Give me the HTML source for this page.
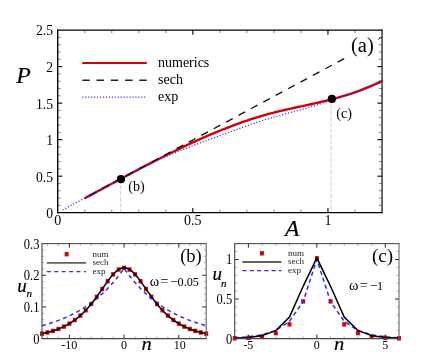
<!DOCTYPE html>
<html><head><meta charset="utf-8"><title>figure</title>
<style>
html,body{margin:0;padding:0;background:#fff;}
body{width:436px;height:355px;overflow:hidden;font-family:"Liberation Serif",serif;}
svg{display:block;font-family:"Liberation Serif",serif;will-change:transform;}
</style></head>
<body>
<svg width="436" height="355" viewBox="0 0 436 355">
<rect x="0" y="0" width="436" height="355" fill="#fff"/>
<line x1="84.73" y1="212.7" x2="84.73" y2="209.7" stroke="#5a5a5a" stroke-width="0.75" />
<line x1="84.73" y1="30.1" x2="84.73" y2="33.1" stroke="#5a5a5a" stroke-width="0.75" />
<line x1="111.75" y1="212.7" x2="111.75" y2="209.7" stroke="#5a5a5a" stroke-width="0.75" />
<line x1="111.75" y1="30.1" x2="111.75" y2="33.1" stroke="#5a5a5a" stroke-width="0.75" />
<line x1="138.78" y1="212.7" x2="138.78" y2="209.7" stroke="#5a5a5a" stroke-width="0.75" />
<line x1="138.78" y1="30.1" x2="138.78" y2="33.1" stroke="#5a5a5a" stroke-width="0.75" />
<line x1="165.8" y1="212.7" x2="165.8" y2="209.7" stroke="#5a5a5a" stroke-width="0.75" />
<line x1="165.8" y1="30.1" x2="165.8" y2="33.1" stroke="#5a5a5a" stroke-width="0.75" />
<line x1="192.82" y1="212.7" x2="192.82" y2="208.1" stroke="#000" stroke-width="1.1" />
<line x1="192.82" y1="30.1" x2="192.82" y2="34.7" stroke="#000" stroke-width="1.1" />
<line x1="219.85" y1="212.7" x2="219.85" y2="209.7" stroke="#5a5a5a" stroke-width="0.75" />
<line x1="219.85" y1="30.1" x2="219.85" y2="33.1" stroke="#5a5a5a" stroke-width="0.75" />
<line x1="246.88" y1="212.7" x2="246.88" y2="209.7" stroke="#5a5a5a" stroke-width="0.75" />
<line x1="246.88" y1="30.1" x2="246.88" y2="33.1" stroke="#5a5a5a" stroke-width="0.75" />
<line x1="273.9" y1="212.7" x2="273.9" y2="209.7" stroke="#5a5a5a" stroke-width="0.75" />
<line x1="273.9" y1="30.1" x2="273.9" y2="33.1" stroke="#5a5a5a" stroke-width="0.75" />
<line x1="300.93" y1="212.7" x2="300.93" y2="209.7" stroke="#5a5a5a" stroke-width="0.75" />
<line x1="300.93" y1="30.1" x2="300.93" y2="33.1" stroke="#5a5a5a" stroke-width="0.75" />
<line x1="327.95" y1="212.7" x2="327.95" y2="208.1" stroke="#000" stroke-width="1.1" />
<line x1="327.95" y1="30.1" x2="327.95" y2="34.7" stroke="#000" stroke-width="1.1" />
<line x1="354.98" y1="212.7" x2="354.98" y2="209.7" stroke="#5a5a5a" stroke-width="0.75" />
<line x1="354.98" y1="30.1" x2="354.98" y2="33.1" stroke="#5a5a5a" stroke-width="0.75" />
<line x1="57.7" y1="205.4" x2="60.7" y2="205.4" stroke="#5a5a5a" stroke-width="0.75" />
<line x1="382" y1="205.4" x2="379" y2="205.4" stroke="#5a5a5a" stroke-width="0.75" />
<line x1="57.7" y1="198.09" x2="60.7" y2="198.09" stroke="#5a5a5a" stroke-width="0.75" />
<line x1="382" y1="198.09" x2="379" y2="198.09" stroke="#5a5a5a" stroke-width="0.75" />
<line x1="57.7" y1="190.79" x2="60.7" y2="190.79" stroke="#5a5a5a" stroke-width="0.75" />
<line x1="382" y1="190.79" x2="379" y2="190.79" stroke="#5a5a5a" stroke-width="0.75" />
<line x1="57.7" y1="183.48" x2="60.7" y2="183.48" stroke="#5a5a5a" stroke-width="0.75" />
<line x1="382" y1="183.48" x2="379" y2="183.48" stroke="#5a5a5a" stroke-width="0.75" />
<line x1="57.7" y1="176.18" x2="62.3" y2="176.18" stroke="#000" stroke-width="1.1" />
<line x1="382" y1="176.18" x2="377.4" y2="176.18" stroke="#000" stroke-width="1.1" />
<line x1="57.7" y1="168.88" x2="60.7" y2="168.88" stroke="#5a5a5a" stroke-width="0.75" />
<line x1="382" y1="168.88" x2="379" y2="168.88" stroke="#5a5a5a" stroke-width="0.75" />
<line x1="57.7" y1="161.57" x2="60.7" y2="161.57" stroke="#5a5a5a" stroke-width="0.75" />
<line x1="382" y1="161.57" x2="379" y2="161.57" stroke="#5a5a5a" stroke-width="0.75" />
<line x1="57.7" y1="154.27" x2="60.7" y2="154.27" stroke="#5a5a5a" stroke-width="0.75" />
<line x1="382" y1="154.27" x2="379" y2="154.27" stroke="#5a5a5a" stroke-width="0.75" />
<line x1="57.7" y1="146.96" x2="60.7" y2="146.96" stroke="#5a5a5a" stroke-width="0.75" />
<line x1="382" y1="146.96" x2="379" y2="146.96" stroke="#5a5a5a" stroke-width="0.75" />
<line x1="57.7" y1="139.66" x2="62.3" y2="139.66" stroke="#000" stroke-width="1.1" />
<line x1="382" y1="139.66" x2="377.4" y2="139.66" stroke="#000" stroke-width="1.1" />
<line x1="57.7" y1="132.36" x2="60.7" y2="132.36" stroke="#5a5a5a" stroke-width="0.75" />
<line x1="382" y1="132.36" x2="379" y2="132.36" stroke="#5a5a5a" stroke-width="0.75" />
<line x1="57.7" y1="125.05" x2="60.7" y2="125.05" stroke="#5a5a5a" stroke-width="0.75" />
<line x1="382" y1="125.05" x2="379" y2="125.05" stroke="#5a5a5a" stroke-width="0.75" />
<line x1="57.7" y1="117.75" x2="60.7" y2="117.75" stroke="#5a5a5a" stroke-width="0.75" />
<line x1="382" y1="117.75" x2="379" y2="117.75" stroke="#5a5a5a" stroke-width="0.75" />
<line x1="57.7" y1="110.44" x2="60.7" y2="110.44" stroke="#5a5a5a" stroke-width="0.75" />
<line x1="382" y1="110.44" x2="379" y2="110.44" stroke="#5a5a5a" stroke-width="0.75" />
<line x1="57.7" y1="103.14" x2="62.3" y2="103.14" stroke="#000" stroke-width="1.1" />
<line x1="382" y1="103.14" x2="377.4" y2="103.14" stroke="#000" stroke-width="1.1" />
<line x1="57.7" y1="95.84" x2="60.7" y2="95.84" stroke="#5a5a5a" stroke-width="0.75" />
<line x1="382" y1="95.84" x2="379" y2="95.84" stroke="#5a5a5a" stroke-width="0.75" />
<line x1="57.7" y1="88.53" x2="60.7" y2="88.53" stroke="#5a5a5a" stroke-width="0.75" />
<line x1="382" y1="88.53" x2="379" y2="88.53" stroke="#5a5a5a" stroke-width="0.75" />
<line x1="57.7" y1="81.23" x2="60.7" y2="81.23" stroke="#5a5a5a" stroke-width="0.75" />
<line x1="382" y1="81.23" x2="379" y2="81.23" stroke="#5a5a5a" stroke-width="0.75" />
<line x1="57.7" y1="73.92" x2="60.7" y2="73.92" stroke="#5a5a5a" stroke-width="0.75" />
<line x1="382" y1="73.92" x2="379" y2="73.92" stroke="#5a5a5a" stroke-width="0.75" />
<line x1="57.7" y1="66.62" x2="62.3" y2="66.62" stroke="#000" stroke-width="1.1" />
<line x1="382" y1="66.62" x2="377.4" y2="66.62" stroke="#000" stroke-width="1.1" />
<line x1="57.7" y1="59.32" x2="60.7" y2="59.32" stroke="#5a5a5a" stroke-width="0.75" />
<line x1="382" y1="59.32" x2="379" y2="59.32" stroke="#5a5a5a" stroke-width="0.75" />
<line x1="57.7" y1="52.01" x2="60.7" y2="52.01" stroke="#5a5a5a" stroke-width="0.75" />
<line x1="382" y1="52.01" x2="379" y2="52.01" stroke="#5a5a5a" stroke-width="0.75" />
<line x1="57.7" y1="44.71" x2="60.7" y2="44.71" stroke="#5a5a5a" stroke-width="0.75" />
<line x1="382" y1="44.71" x2="379" y2="44.71" stroke="#5a5a5a" stroke-width="0.75" />
<line x1="57.7" y1="37.4" x2="60.7" y2="37.4" stroke="#5a5a5a" stroke-width="0.75" />
<line x1="382" y1="37.4" x2="379" y2="37.4" stroke="#5a5a5a" stroke-width="0.75" />
<line x1="120.54" y1="179.14" x2="120.54" y2="212.7" stroke="#d8d8d8" stroke-width="1.2" stroke-dasharray="4.6 1.3"/>
<line x1="330.87" y1="98.9" x2="330.87" y2="212.7" stroke="#d8d8d8" stroke-width="1.2" stroke-dasharray="4.6 1.3"/>
<path d="M84.73 198.26 L87.22 196.91 L89.72 195.57 L92.22 194.23 L94.72 192.88 L97.22 191.54 L99.71 190.19 L102.21 188.84 L104.71 187.49 L107.21 186.15 L109.71 184.8 L112.2 183.46 L114.7 182.11 L117.2 180.77 L119.7 179.43 L122.2 178.09 L124.69 176.75 L127.19 175.42 L129.69 174.09 L132.19 172.76 L134.69 171.44 L137.19 170.12 L139.68 168.81 L142.18 167.5 L144.68 166.19 L147.18 164.89 L149.68 163.59 L152.17 162.31 L154.67 161.02 L157.17 159.75 L159.67 158.48 L162.17 157.21 L164.66 155.96 L167.16 154.71 L169.66 153.47 L172.16 152.23 L174.66 151.01 L177.16 149.8 L179.65 148.59 L182.15 147.39 L184.65 146.2 L187.15 145.03 L189.65 143.86 L192.14 142.7 L194.64 141.56 L197.14 140.42 L199.64 139.3 L202.14 138.19 L204.63 137.09 L207.13 136 L209.63 134.93 L212.13 133.87 L214.63 132.82 L217.12 131.78 L219.62 130.76 L222.12 129.75 L224.62 128.76 L227.12 127.78 L229.62 126.82 L232.11 125.87 L234.61 124.94 L237.11 124.03 L239.61 123.13 L242.11 122.24 L244.6 121.38 L247.1 120.53 L249.6 119.7 L252.1 118.88 L254.6 118.09 L257.09 117.31 L259.59 116.55 L262.09 115.81 L264.59 115.09 L267.09 114.39 L269.59 113.71 L272.08 113.05 L274.58 112.4 L277.08 111.78 L279.58 111.17 L282.08 110.57 L284.57 109.99 L287.07 109.42 L289.57 108.86 L292.07 108.31 L294.57 107.76 L297.06 107.22 L299.56 106.68 L302.06 106.14 L304.56 105.6 L307.06 105.06 L309.55 104.52 L312.05 103.97 L314.55 103.42 L317.05 102.85 L319.55 102.28 L322.05 101.7 L324.54 101.1 L327.04 100.49 L329.54 99.87 L332.04 99.22 L334.54 98.56 L337.03 97.88 L339.53 97.17 L342.03 96.45 L344.53 95.7 L347.03 94.92 L349.52 94.12 L352.02 93.3 L354.52 92.44 L357.02 91.56 L359.52 90.65 L362.02 89.71 L364.51 88.74 L367.01 87.73 L369.51 86.69 L372.01 85.62 L374.51 84.51 L377 83.36 L379.5 82.18 L382 80.96" fill="none" stroke="#d40000" stroke-width="2.4" stroke-linecap="butt"/>
<path d="M84.73 198.09 L345.52 57.86" fill="none" stroke="#111" stroke-width="1.35" stroke-dasharray="7.45 6.62" stroke-dashoffset="8.3"/>
<path d="M62.56 209.99 L65.25 208.52 L67.93 207.06 L70.62 205.61 L73.3 204.17 L75.99 202.74 L78.67 201.31 L81.35 199.89 L84.04 198.48 L86.72 197.07 L89.41 195.67 L92.09 194.27 L94.78 192.87 L97.46 191.48 L100.15 190.08 L102.83 188.69 L105.51 187.29 L108.2 185.89 L110.88 184.49 L113.57 183.08 L116.25 181.67 L118.94 180.25 L121.62 178.83 L124.3 177.4 L126.99 175.97 L129.67 174.54 L132.36 173.11 L135.04 171.69 L137.73 170.27 L140.41 168.87 L143.09 167.49 L145.78 166.12 L148.46 164.78 L151.15 163.46 L153.83 162.17 L156.52 160.9 L159.2 159.66 L161.88 158.44 L164.57 157.25 L167.25 156.07 L169.94 154.92 L172.62 153.78 L175.31 152.66 L177.99 151.56 L180.68 150.47 L183.36 149.39 L186.04 148.33 L188.73 147.28 L191.41 146.24 L194.1 145.21 L196.78 144.19 L199.47 143.18 L202.15 142.17 L204.83 141.17 L207.52 140.17 L210.2 139.18 L212.89 138.2 L215.57 137.22 L218.26 136.24 L220.94 135.26 L223.62 134.28 L226.31 133.3 L228.99 132.32 L231.68 131.34 L234.36 130.36 L237.05 129.39 L239.73 128.41 L242.41 127.44 L245.1 126.48 L247.78 125.52 L250.47 124.57 L253.15 123.64 L255.84 122.72 L258.52 121.82 L261.21 120.94 L263.89 120.07 L266.57 119.23 L269.26 118.41 L271.94 117.62 L274.63 116.85 L277.31 116.1 L280 115.36 L282.68 114.64 L285.36 113.93 L288.05 113.23 L290.73 112.52 L293.42 111.81 L296.1 111.1 L298.79 110.38 L301.47 109.64 L304.15 108.89 L306.84 108.11 L309.52 107.31 L312.21 106.48 L314.89 105.63 L317.58 104.76 L320.26 103.87 L322.94 102.98 L325.63 102.09 L328.31 101.2 L331 100.33 L333.68 99.47 L336.37 98.63 L339.05 97.8 L341.74 96.97 L344.42 96.15 L347.1 95.32 L349.79 94.49 L352.47 93.64 L355.16 92.77 L357.84 91.87 L360.53 90.95 L363.21 90 L365.89 89 L368.58 87.96 L371.26 86.87 L373.95 85.73 L376.63 84.53 L379.32 83.26 L382 81.93" fill="none" stroke="#2a2aff" stroke-width="1.3" stroke-dasharray="1.1 1.9"/>
<line x1="57.05" y1="30.1" x2="382.55" y2="30.1" stroke="#000" stroke-width="1.05" />
<line x1="57.05" y1="212.7" x2="382.55" y2="212.7" stroke="#000" stroke-width="1.25" />
<line x1="57.7" y1="29.6" x2="57.7" y2="213.35" stroke="#000" stroke-width="1.35" />
<line x1="382.05" y1="29.6" x2="382.05" y2="213.35" stroke="#1a1a1a" stroke-width="1.3" />
<path d="M378.3 39.7 L379.9 38.0 L381.8 37.4" fill="none" stroke="#111" stroke-width="0.95"/>
<circle cx="120.94" cy="179.14" r="4.1" fill="#000"/>
<circle cx="331.87" cy="98.9" r="4.1" fill="#000"/>
<text transform="translate(53 35.1) scale(0.96 1)" font-size="14.2" text-anchor="end" fill="#000" >2.5</text>
<text transform="translate(53 72.02) scale(0.96 1)" font-size="14.2" text-anchor="end" fill="#000" >2</text>
<text transform="translate(53 108.54) scale(0.96 1)" font-size="14.2" text-anchor="end" fill="#000" >1.5</text>
<text transform="translate(53 145.06) scale(0.96 1)" font-size="14.2" text-anchor="end" fill="#000" >1</text>
<text transform="translate(53 181.58) scale(0.96 1)" font-size="14.2" text-anchor="end" fill="#000" >0.5</text>
<text transform="translate(53 218.1) scale(0.96 1)" font-size="14.2" text-anchor="end" fill="#000" >0</text>
<text x="57.7" y="225.2" font-size="14" text-anchor="middle" fill="#000" >0</text>
<text x="192.82" y="225.2" font-size="14" text-anchor="middle" fill="#000" >0.5</text>
<text x="327.95" y="225.2" font-size="14" text-anchor="middle" fill="#000" >1</text>
<text x="16.3" y="83.4" font-size="23.8" text-anchor="start" font-style="italic" fill="#000" stroke="#000" stroke-width="0.2">P</text>
<text x="285" y="236.3" font-size="23.5" text-anchor="start" font-style="italic" fill="#000" stroke="#000" stroke-width="0.2">A</text>
<text x="351" y="51.5" font-size="20.5" text-anchor="start" fill="#000" >(a)</text>
<text x="128.3" y="190.7" font-size="14.2" text-anchor="start" fill="#000" >(b)</text>
<text x="336.3" y="117.6" font-size="14.2" text-anchor="start" fill="#000" >(c)</text>
<line x1="82.3" y1="63" x2="146.8" y2="63" stroke="#d40000" stroke-width="1.9" />
<line x1="82.3" y1="80.2" x2="146.8" y2="80.2" stroke="#222" stroke-width="1.4" stroke-dasharray="7.5 6.75"/>
<line x1="82.3" y1="97.2" x2="146.3" y2="97.2" stroke="#2a2aff" stroke-width="1.3" stroke-dasharray="1.1 1.85"/>
<text x="158" y="66.7" font-size="14" text-anchor="start" fill="#000" >numerics</text>
<text x="158" y="84.3" font-size="14" text-anchor="start" fill="#000" >sech</text>
<text x="158" y="100.7" font-size="14" text-anchor="start" fill="#000" >exp</text>
<line x1="47.47" y1="338.6" x2="47.47" y2="336.2" stroke="#8a8a8a" stroke-width="0.6" />
<line x1="47.47" y1="243.65" x2="47.47" y2="246.05" stroke="#8a8a8a" stroke-width="0.6" />
<line x1="58.42" y1="338.6" x2="58.42" y2="336.2" stroke="#8a8a8a" stroke-width="0.6" />
<line x1="58.42" y1="243.65" x2="58.42" y2="246.05" stroke="#8a8a8a" stroke-width="0.6" />
<line x1="69.37" y1="338.6" x2="69.37" y2="334.6" stroke="#2b2b2b" stroke-width="1.0" />
<line x1="69.37" y1="243.65" x2="69.37" y2="247.65" stroke="#2b2b2b" stroke-width="1.0" />
<line x1="80.31" y1="338.6" x2="80.31" y2="336.2" stroke="#8a8a8a" stroke-width="0.6" />
<line x1="80.31" y1="243.65" x2="80.31" y2="246.05" stroke="#8a8a8a" stroke-width="0.6" />
<line x1="91.26" y1="338.6" x2="91.26" y2="336.2" stroke="#8a8a8a" stroke-width="0.6" />
<line x1="91.26" y1="243.65" x2="91.26" y2="246.05" stroke="#8a8a8a" stroke-width="0.6" />
<line x1="102.21" y1="338.6" x2="102.21" y2="336.2" stroke="#8a8a8a" stroke-width="0.6" />
<line x1="102.21" y1="243.65" x2="102.21" y2="246.05" stroke="#8a8a8a" stroke-width="0.6" />
<line x1="113.15" y1="338.6" x2="113.15" y2="336.2" stroke="#8a8a8a" stroke-width="0.6" />
<line x1="113.15" y1="243.65" x2="113.15" y2="246.05" stroke="#8a8a8a" stroke-width="0.6" />
<line x1="124.1" y1="338.6" x2="124.1" y2="334.6" stroke="#2b2b2b" stroke-width="1.0" />
<line x1="124.1" y1="243.65" x2="124.1" y2="247.65" stroke="#2b2b2b" stroke-width="1.0" />
<line x1="135.05" y1="338.6" x2="135.05" y2="336.2" stroke="#8a8a8a" stroke-width="0.6" />
<line x1="135.05" y1="243.65" x2="135.05" y2="246.05" stroke="#8a8a8a" stroke-width="0.6" />
<line x1="145.99" y1="338.6" x2="145.99" y2="336.2" stroke="#8a8a8a" stroke-width="0.6" />
<line x1="145.99" y1="243.65" x2="145.99" y2="246.05" stroke="#8a8a8a" stroke-width="0.6" />
<line x1="156.94" y1="338.6" x2="156.94" y2="336.2" stroke="#8a8a8a" stroke-width="0.6" />
<line x1="156.94" y1="243.65" x2="156.94" y2="246.05" stroke="#8a8a8a" stroke-width="0.6" />
<line x1="167.89" y1="338.6" x2="167.89" y2="336.2" stroke="#8a8a8a" stroke-width="0.6" />
<line x1="167.89" y1="243.65" x2="167.89" y2="246.05" stroke="#8a8a8a" stroke-width="0.6" />
<line x1="178.83" y1="338.6" x2="178.83" y2="334.6" stroke="#2b2b2b" stroke-width="1.0" />
<line x1="178.83" y1="243.65" x2="178.83" y2="247.65" stroke="#2b2b2b" stroke-width="1.0" />
<line x1="189.78" y1="338.6" x2="189.78" y2="336.2" stroke="#8a8a8a" stroke-width="0.6" />
<line x1="189.78" y1="243.65" x2="189.78" y2="246.05" stroke="#8a8a8a" stroke-width="0.6" />
<line x1="200.73" y1="338.6" x2="200.73" y2="336.2" stroke="#8a8a8a" stroke-width="0.6" />
<line x1="200.73" y1="243.65" x2="200.73" y2="246.05" stroke="#8a8a8a" stroke-width="0.6" />
<line x1="42" y1="332.27" x2="44.4" y2="332.27" stroke="#8a8a8a" stroke-width="0.6" />
<line x1="206.2" y1="332.27" x2="203.8" y2="332.27" stroke="#8a8a8a" stroke-width="0.6" />
<line x1="42" y1="325.94" x2="44.4" y2="325.94" stroke="#8a8a8a" stroke-width="0.6" />
<line x1="206.2" y1="325.94" x2="203.8" y2="325.94" stroke="#8a8a8a" stroke-width="0.6" />
<line x1="42" y1="319.61" x2="44.4" y2="319.61" stroke="#8a8a8a" stroke-width="0.6" />
<line x1="206.2" y1="319.61" x2="203.8" y2="319.61" stroke="#8a8a8a" stroke-width="0.6" />
<line x1="42" y1="313.28" x2="44.4" y2="313.28" stroke="#8a8a8a" stroke-width="0.6" />
<line x1="206.2" y1="313.28" x2="203.8" y2="313.28" stroke="#8a8a8a" stroke-width="0.6" />
<line x1="42" y1="306.95" x2="46" y2="306.95" stroke="#2b2b2b" stroke-width="1.0" />
<line x1="206.2" y1="306.95" x2="202.2" y2="306.95" stroke="#2b2b2b" stroke-width="1.0" />
<line x1="42" y1="300.62" x2="44.4" y2="300.62" stroke="#8a8a8a" stroke-width="0.6" />
<line x1="206.2" y1="300.62" x2="203.8" y2="300.62" stroke="#8a8a8a" stroke-width="0.6" />
<line x1="42" y1="294.29" x2="44.4" y2="294.29" stroke="#8a8a8a" stroke-width="0.6" />
<line x1="206.2" y1="294.29" x2="203.8" y2="294.29" stroke="#8a8a8a" stroke-width="0.6" />
<line x1="42" y1="287.96" x2="44.4" y2="287.96" stroke="#8a8a8a" stroke-width="0.6" />
<line x1="206.2" y1="287.96" x2="203.8" y2="287.96" stroke="#8a8a8a" stroke-width="0.6" />
<line x1="42" y1="281.63" x2="44.4" y2="281.63" stroke="#8a8a8a" stroke-width="0.6" />
<line x1="206.2" y1="281.63" x2="203.8" y2="281.63" stroke="#8a8a8a" stroke-width="0.6" />
<line x1="42" y1="275.3" x2="46" y2="275.3" stroke="#2b2b2b" stroke-width="1.0" />
<line x1="206.2" y1="275.3" x2="202.2" y2="275.3" stroke="#2b2b2b" stroke-width="1.0" />
<line x1="42" y1="268.97" x2="44.4" y2="268.97" stroke="#8a8a8a" stroke-width="0.6" />
<line x1="206.2" y1="268.97" x2="203.8" y2="268.97" stroke="#8a8a8a" stroke-width="0.6" />
<line x1="42" y1="262.64" x2="44.4" y2="262.64" stroke="#8a8a8a" stroke-width="0.6" />
<line x1="206.2" y1="262.64" x2="203.8" y2="262.64" stroke="#8a8a8a" stroke-width="0.6" />
<line x1="42" y1="256.31" x2="44.4" y2="256.31" stroke="#8a8a8a" stroke-width="0.6" />
<line x1="206.2" y1="256.31" x2="203.8" y2="256.31" stroke="#8a8a8a" stroke-width="0.6" />
<line x1="42" y1="249.98" x2="44.4" y2="249.98" stroke="#8a8a8a" stroke-width="0.6" />
<line x1="206.2" y1="249.98" x2="203.8" y2="249.98" stroke="#8a8a8a" stroke-width="0.6" />
<clipPath id="cb"><rect x="42" y="243.65" width="167.2" height="97.95"/></clipPath>
<rect x="40" y="331.46" width="4" height="4.4" fill="#d80000"/>
<rect x="45.47" y="330.23" width="4" height="4.4" fill="#d80000"/>
<rect x="50.95" y="328.69" width="4" height="4.4" fill="#d80000"/>
<rect x="56.42" y="326.77" width="4" height="4.4" fill="#d80000"/>
<rect x="61.89" y="324.39" width="4" height="4.4" fill="#d80000"/>
<rect x="67.37" y="321.44" width="4" height="4.4" fill="#d80000"/>
<rect x="72.84" y="317.81" width="4" height="4.4" fill="#d80000"/>
<rect x="78.31" y="313.38" width="4" height="4.4" fill="#d80000"/>
<rect x="83.79" y="308.05" width="4" height="4.4" fill="#d80000"/>
<rect x="89.26" y="301.77" width="4" height="4.4" fill="#d80000"/>
<rect x="94.73" y="294.59" width="4" height="4.4" fill="#d80000"/>
<rect x="100.21" y="286.82" width="4" height="4.4" fill="#d80000"/>
<rect x="105.68" y="279.03" width="4" height="4.4" fill="#d80000"/>
<rect x="111.15" y="272.16" width="4" height="4.4" fill="#d80000"/>
<rect x="116.63" y="267.36" width="4" height="4.4" fill="#d80000"/>
<rect x="122.1" y="265.63" width="4" height="4.4" fill="#d80000"/>
<rect x="127.57" y="267.36" width="4" height="4.4" fill="#d80000"/>
<rect x="133.05" y="272.16" width="4" height="4.4" fill="#d80000"/>
<rect x="138.52" y="279.03" width="4" height="4.4" fill="#d80000"/>
<rect x="143.99" y="286.82" width="4" height="4.4" fill="#d80000"/>
<rect x="149.47" y="294.59" width="4" height="4.4" fill="#d80000"/>
<rect x="154.94" y="301.77" width="4" height="4.4" fill="#d80000"/>
<rect x="160.41" y="308.05" width="4" height="4.4" fill="#d80000"/>
<rect x="165.89" y="313.38" width="4" height="4.4" fill="#d80000"/>
<rect x="171.36" y="317.81" width="4" height="4.4" fill="#d80000"/>
<rect x="176.83" y="321.44" width="4" height="4.4" fill="#d80000"/>
<rect x="182.31" y="324.39" width="4" height="4.4" fill="#d80000"/>
<rect x="187.78" y="326.77" width="4" height="4.4" fill="#d80000"/>
<rect x="193.25" y="328.69" width="4" height="4.4" fill="#d80000"/>
<rect x="198.73" y="330.23" width="4" height="4.4" fill="#d80000"/>
<rect x="204.2" y="331.46" width="4" height="4.4" fill="#d80000"/>
<path d="M42 325.6 L42.68 325.42 L43.37 325.23 L44.05 325.04 L44.74 324.85 L45.42 324.66 L46.1 324.46 L46.79 324.26 L47.47 324.06 L48.16 323.85 L48.84 323.64 L49.53 323.43 L50.21 323.21 L50.89 323 L51.58 322.77 L52.26 322.55 L52.95 322.32 L53.63 322.09 L54.31 321.86 L55 321.62 L55.68 321.38 L56.37 321.14 L57.05 320.89 L57.74 320.64 L58.42 320.39 L59.1 320.13 L59.79 319.87 L60.47 319.6 L61.16 319.33 L61.84 319.06 L62.52 318.78 L63.21 318.5 L63.89 318.22 L64.58 317.93 L65.26 317.63 L65.95 317.34 L66.63 317.04 L67.31 316.73 L68 316.42 L68.68 316.11 L69.37 315.79 L70.05 315.47 L70.73 315.14 L71.42 314.81 L72.1 314.47 L72.79 314.13 L73.47 313.78 L74.16 313.43 L74.84 313.07 L75.52 312.71 L76.21 312.34 L76.89 311.97 L77.58 311.6 L78.26 311.21 L78.94 310.83 L79.63 310.43 L80.31 310.03 L81 309.63 L81.68 309.22 L82.37 308.8 L83.05 308.38 L83.73 307.95 L84.42 307.52 L85.1 307.08 L85.79 306.63 L86.47 306.18 L87.16 305.72 L87.84 305.25 L88.52 304.78 L89.21 304.3 L89.89 303.82 L90.58 303.32 L91.26 302.83 L91.94 302.32 L92.63 301.8 L93.31 301.28 L94 300.76 L94.68 300.22 L95.36 299.68 L96.05 299.12 L96.73 298.57 L97.42 298 L98.1 297.42 L98.79 296.84 L99.47 296.25 L100.15 295.65 L100.84 295.04 L101.52 294.42 L102.21 293.8 L102.89 293.16 L103.57 292.52 L104.26 291.87 L104.94 291.21 L105.63 290.53 L106.31 289.85 L107 289.16 L107.68 288.46 L108.36 287.75 L109.05 287.03 L109.73 286.3 L110.42 285.56 L111.1 284.81 L111.78 284.05 L112.47 283.28 L113.15 282.49 L113.84 281.7 L114.52 280.89 L115.21 280.08 L115.89 279.25 L116.57 278.41 L117.26 277.55 L117.94 276.69 L118.63 275.81 L119.31 274.92 L119.99 274.02 L120.68 273.11 L121.36 272.18 L122.05 271.24 L122.73 270.29 L123.42 269.32 L124.1 268.34 L124.78 269.32 L125.47 270.29 L126.15 271.24 L126.84 272.18 L127.52 273.11 L128.2 274.02 L128.89 274.92 L129.57 275.81 L130.26 276.69 L130.94 277.55 L131.63 278.41 L132.31 279.25 L132.99 280.08 L133.68 280.89 L134.36 281.7 L135.05 282.49 L135.73 283.28 L136.41 284.05 L137.1 284.81 L137.78 285.56 L138.47 286.3 L139.15 287.03 L139.84 287.75 L140.52 288.46 L141.2 289.16 L141.89 289.85 L142.57 290.53 L143.26 291.21 L143.94 291.87 L144.62 292.52 L145.31 293.16 L145.99 293.8 L146.68 294.42 L147.36 295.04 L148.05 295.65 L148.73 296.25 L149.41 296.84 L150.1 297.42 L150.78 298 L151.47 298.57 L152.15 299.12 L152.83 299.68 L153.52 300.22 L154.2 300.76 L154.89 301.28 L155.57 301.8 L156.26 302.32 L156.94 302.83 L157.62 303.32 L158.31 303.82 L158.99 304.3 L159.68 304.78 L160.36 305.25 L161.05 305.72 L161.73 306.18 L162.41 306.63 L163.1 307.08 L163.78 307.52 L164.47 307.95 L165.15 308.38 L165.83 308.8 L166.52 309.22 L167.2 309.63 L167.89 310.03 L168.57 310.43 L169.25 310.83 L169.94 311.21 L170.62 311.6 L171.31 311.97 L171.99 312.34 L172.68 312.71 L173.36 313.07 L174.04 313.43 L174.73 313.78 L175.41 314.13 L176.1 314.47 L176.78 314.81 L177.47 315.14 L178.15 315.47 L178.83 315.79 L179.52 316.11 L180.2 316.42 L180.89 316.73 L181.57 317.04 L182.25 317.34 L182.94 317.63 L183.62 317.93 L184.31 318.22 L184.99 318.5 L185.68 318.78 L186.36 319.06 L187.04 319.33 L187.73 319.6 L188.41 319.87 L189.1 320.13 L189.78 320.39 L190.46 320.64 L191.15 320.89 L191.83 321.14 L192.52 321.38 L193.2 321.62 L193.88 321.86 L194.57 322.09 L195.25 322.32 L195.94 322.55 L196.62 322.77 L197.31 323 L197.99 323.21 L198.67 323.43 L199.36 323.64 L200.04 323.85 L200.73 324.06 L201.41 324.26 L202.09 324.46 L202.78 324.66 L203.46 324.85 L204.15 325.04 L204.83 325.23 L205.52 325.42 L206.2 325.6" fill="none" stroke="#2a2aff" stroke-width="1.5" stroke-dasharray="3.9 3.5"/>
<path d="M42 333.66 L42.68 333.52 L43.37 333.38 L44.05 333.23 L44.74 333.08 L45.42 332.92 L46.1 332.76 L46.79 332.6 L47.47 332.43 L48.16 332.25 L48.84 332.07 L49.53 331.89 L50.21 331.7 L50.89 331.5 L51.58 331.3 L52.26 331.1 L52.95 330.89 L53.63 330.67 L54.31 330.45 L55 330.22 L55.68 329.98 L56.37 329.74 L57.05 329.49 L57.74 329.23 L58.42 328.97 L59.1 328.7 L59.79 328.42 L60.47 328.14 L61.16 327.85 L61.84 327.54 L62.52 327.23 L63.21 326.92 L63.89 326.59 L64.58 326.26 L65.26 325.91 L65.95 325.56 L66.63 325.19 L67.31 324.82 L68 324.44 L68.68 324.05 L69.37 323.64 L70.05 323.23 L70.73 322.8 L71.42 322.37 L72.1 321.92 L72.79 321.46 L73.47 320.99 L74.16 320.51 L74.84 320.01 L75.52 319.51 L76.21 318.99 L76.89 318.45 L77.58 317.91 L78.26 317.35 L78.94 316.77 L79.63 316.18 L80.31 315.58 L81 314.97 L81.68 314.34 L82.37 313.69 L83.05 313.03 L83.73 312.36 L84.42 311.67 L85.1 310.97 L85.79 310.25 L86.47 309.52 L87.16 308.77 L87.84 308.01 L88.52 307.23 L89.21 306.43 L89.89 305.62 L90.58 304.8 L91.26 303.97 L91.94 303.11 L92.63 302.25 L93.31 301.37 L94 300.48 L94.68 299.58 L95.36 298.66 L96.05 297.73 L96.73 296.79 L97.42 295.85 L98.1 294.89 L98.79 293.93 L99.47 292.95 L100.15 291.98 L100.84 290.99 L101.52 290.01 L102.21 289.02 L102.89 288.03 L103.57 287.04 L104.26 286.06 L104.94 285.08 L105.63 284.1 L106.31 283.13 L107 282.18 L107.68 281.23 L108.36 280.3 L109.05 279.38 L109.73 278.49 L110.42 277.61 L111.1 276.76 L111.78 275.93 L112.47 275.13 L113.15 274.36 L113.84 273.63 L114.52 272.92 L115.21 272.26 L115.89 271.63 L116.57 271.05 L117.26 270.51 L117.94 270.01 L118.63 269.56 L119.31 269.16 L119.99 268.81 L120.68 268.52 L121.36 268.27 L122.05 268.08 L122.73 267.94 L123.42 267.86 L124.1 267.83 L124.78 267.86 L125.47 267.94 L126.15 268.08 L126.84 268.27 L127.52 268.52 L128.2 268.81 L128.89 269.16 L129.57 269.56 L130.26 270.01 L130.94 270.51 L131.63 271.05 L132.31 271.63 L132.99 272.26 L133.68 272.92 L134.36 273.63 L135.05 274.36 L135.73 275.13 L136.41 275.93 L137.1 276.76 L137.78 277.61 L138.47 278.49 L139.15 279.38 L139.84 280.3 L140.52 281.23 L141.2 282.18 L141.89 283.13 L142.57 284.1 L143.26 285.08 L143.94 286.06 L144.62 287.04 L145.31 288.03 L145.99 289.02 L146.68 290.01 L147.36 290.99 L148.05 291.98 L148.73 292.95 L149.41 293.93 L150.1 294.89 L150.78 295.85 L151.47 296.79 L152.15 297.73 L152.83 298.66 L153.52 299.58 L154.2 300.48 L154.89 301.37 L155.57 302.25 L156.26 303.11 L156.94 303.97 L157.62 304.8 L158.31 305.62 L158.99 306.43 L159.68 307.23 L160.36 308.01 L161.05 308.77 L161.73 309.52 L162.41 310.25 L163.1 310.97 L163.78 311.67 L164.47 312.36 L165.15 313.03 L165.83 313.69 L166.52 314.34 L167.2 314.97 L167.89 315.58 L168.57 316.18 L169.25 316.77 L169.94 317.35 L170.62 317.91 L171.31 318.45 L171.99 318.99 L172.68 319.51 L173.36 320.01 L174.04 320.51 L174.73 320.99 L175.41 321.46 L176.1 321.92 L176.78 322.37 L177.47 322.8 L178.15 323.23 L178.83 323.64 L179.52 324.05 L180.2 324.44 L180.89 324.82 L181.57 325.19 L182.25 325.56 L182.94 325.91 L183.62 326.26 L184.31 326.59 L184.99 326.92 L185.68 327.23 L186.36 327.54 L187.04 327.85 L187.73 328.14 L188.41 328.42 L189.1 328.7 L189.78 328.97 L190.46 329.23 L191.15 329.49 L191.83 329.74 L192.52 329.98 L193.2 330.22 L193.88 330.45 L194.57 330.67 L195.25 330.89 L195.94 331.1 L196.62 331.3 L197.31 331.5 L197.99 331.7 L198.67 331.89 L199.36 332.07 L200.04 332.25 L200.73 332.43 L201.41 332.6 L202.09 332.76 L202.78 332.92 L203.46 333.08 L204.15 333.23 L204.83 333.38 L205.52 333.52 L206.2 333.66" fill="none" stroke="#000" stroke-width="1.5" />
<line x1="41.5" y1="243.65" x2="206.7" y2="243.65" stroke="#333" stroke-width="0.95" />
<line x1="41.5" y1="338.6" x2="206.7" y2="338.6" stroke="#444" stroke-width="1.05" />
<line x1="42" y1="243.25" x2="42" y2="339.1" stroke="#444" stroke-width="1.1" />
<line x1="206.2" y1="243.25" x2="206.2" y2="339.1" stroke="#666" stroke-width="1.1" />
<text transform="translate(39.5 248.65) scale(0.86 1)" font-size="14.6" text-anchor="end" fill="#000" >0.3</text>
<text transform="translate(39.5 280.3) scale(0.86 1)" font-size="14.6" text-anchor="end" fill="#000" >0.2</text>
<text transform="translate(39.5 311.95) scale(0.86 1)" font-size="14.6" text-anchor="end" fill="#000" >0.1</text>
<text transform="translate(39.5 343.6) scale(0.86 1)" font-size="14.6" text-anchor="end" fill="#000" >0</text>
<text x="69.37" y="348.8" font-size="12" text-anchor="middle" fill="#000" >-10</text>
<text x="124.1" y="348.8" font-size="12" text-anchor="middle" fill="#000" >0</text>
<text x="179.63" y="348.8" font-size="12" text-anchor="middle" fill="#000" >10</text>
<text transform="translate(141.6 349.5) scale(1.05 1)" font-size="19.5" text-anchor="start" font-style="italic" fill="#000" stroke="#000" stroke-width="0.12">n</text>
<text transform="translate(17.2 291.8) scale(1.05 1)" font-size="18" text-anchor="start" font-style="italic" fill="#000" stroke="#000" stroke-width="0.2">u</text>
<text transform="translate(26.4 296.9) scale(1.05 1)" font-size="10.5" text-anchor="start" font-style="italic" fill="#000" stroke="#000" stroke-width="0.2">n</text>
<text x="180.2" y="261.8" font-size="18.5" text-anchor="start" fill="#000" >(b)</text>
<text y="286.3" font-size="12.2"><tspan x="149.7" font-size="14.3">&#969;</tspan><tspan x="160.4" font-size="14">=</tspan><tspan x="170.6" font-size="13.5">&#8722;</tspan><tspan x="177.6">0.05</tspan></text>
<rect x="64.7" y="252.0" width="3.9" height="4.4" fill="#d80000"/>
<line x1="46.9" y1="262.8" x2="86.1" y2="262.8" stroke="#606060" stroke-width="1.8" />
<line x1="46.9" y1="271.6" x2="86.1" y2="271.6" stroke="#2a2aff" stroke-width="1.4" stroke-dasharray="3.9 3.5"/>
<text x="92.5" y="256.5" font-size="9" text-anchor="start" fill="#222" >num</text>
<text x="92.5" y="265.1" font-size="9" text-anchor="start" fill="#222" >sech</text>
<text x="92.5" y="273.6" font-size="9" text-anchor="start" fill="#222" >exp</text>
<line x1="248.39" y1="338.6" x2="248.39" y2="334.6" stroke="#2b2b2b" stroke-width="1.0" />
<line x1="248.39" y1="243.65" x2="248.39" y2="247.65" stroke="#2b2b2b" stroke-width="1.0" />
<line x1="262.08" y1="338.6" x2="262.08" y2="336.2" stroke="#8a8a8a" stroke-width="0.6" />
<line x1="262.08" y1="243.65" x2="262.08" y2="246.05" stroke="#8a8a8a" stroke-width="0.6" />
<line x1="275.77" y1="338.6" x2="275.77" y2="336.2" stroke="#8a8a8a" stroke-width="0.6" />
<line x1="275.77" y1="243.65" x2="275.77" y2="246.05" stroke="#8a8a8a" stroke-width="0.6" />
<line x1="289.47" y1="338.6" x2="289.47" y2="336.2" stroke="#8a8a8a" stroke-width="0.6" />
<line x1="289.47" y1="243.65" x2="289.47" y2="246.05" stroke="#8a8a8a" stroke-width="0.6" />
<line x1="303.16" y1="338.6" x2="303.16" y2="336.2" stroke="#8a8a8a" stroke-width="0.6" />
<line x1="303.16" y1="243.65" x2="303.16" y2="246.05" stroke="#8a8a8a" stroke-width="0.6" />
<line x1="316.85" y1="338.6" x2="316.85" y2="334.6" stroke="#2b2b2b" stroke-width="1.0" />
<line x1="316.85" y1="243.65" x2="316.85" y2="247.65" stroke="#2b2b2b" stroke-width="1.0" />
<line x1="330.54" y1="338.6" x2="330.54" y2="336.2" stroke="#8a8a8a" stroke-width="0.6" />
<line x1="330.54" y1="243.65" x2="330.54" y2="246.05" stroke="#8a8a8a" stroke-width="0.6" />
<line x1="344.23" y1="338.6" x2="344.23" y2="336.2" stroke="#8a8a8a" stroke-width="0.6" />
<line x1="344.23" y1="243.65" x2="344.23" y2="246.05" stroke="#8a8a8a" stroke-width="0.6" />
<line x1="357.93" y1="338.6" x2="357.93" y2="336.2" stroke="#8a8a8a" stroke-width="0.6" />
<line x1="357.93" y1="243.65" x2="357.93" y2="246.05" stroke="#8a8a8a" stroke-width="0.6" />
<line x1="371.62" y1="338.6" x2="371.62" y2="336.2" stroke="#8a8a8a" stroke-width="0.6" />
<line x1="371.62" y1="243.65" x2="371.62" y2="246.05" stroke="#8a8a8a" stroke-width="0.6" />
<line x1="385.31" y1="338.6" x2="385.31" y2="334.6" stroke="#2b2b2b" stroke-width="1.0" />
<line x1="385.31" y1="243.65" x2="385.31" y2="247.65" stroke="#2b2b2b" stroke-width="1.0" />
<line x1="234.7" y1="330.69" x2="237.1" y2="330.69" stroke="#8a8a8a" stroke-width="0.6" />
<line x1="399" y1="330.69" x2="396.6" y2="330.69" stroke="#8a8a8a" stroke-width="0.6" />
<line x1="234.7" y1="322.78" x2="237.1" y2="322.78" stroke="#8a8a8a" stroke-width="0.6" />
<line x1="399" y1="322.78" x2="396.6" y2="322.78" stroke="#8a8a8a" stroke-width="0.6" />
<line x1="234.7" y1="314.86" x2="237.1" y2="314.86" stroke="#8a8a8a" stroke-width="0.6" />
<line x1="399" y1="314.86" x2="396.6" y2="314.86" stroke="#8a8a8a" stroke-width="0.6" />
<line x1="234.7" y1="306.95" x2="237.1" y2="306.95" stroke="#8a8a8a" stroke-width="0.6" />
<line x1="399" y1="306.95" x2="396.6" y2="306.95" stroke="#8a8a8a" stroke-width="0.6" />
<line x1="234.7" y1="299.04" x2="238.7" y2="299.04" stroke="#2b2b2b" stroke-width="1.0" />
<line x1="399" y1="299.04" x2="395" y2="299.04" stroke="#2b2b2b" stroke-width="1.0" />
<line x1="234.7" y1="291.12" x2="237.1" y2="291.12" stroke="#8a8a8a" stroke-width="0.6" />
<line x1="399" y1="291.12" x2="396.6" y2="291.12" stroke="#8a8a8a" stroke-width="0.6" />
<line x1="234.7" y1="283.21" x2="237.1" y2="283.21" stroke="#8a8a8a" stroke-width="0.6" />
<line x1="399" y1="283.21" x2="396.6" y2="283.21" stroke="#8a8a8a" stroke-width="0.6" />
<line x1="234.7" y1="275.3" x2="237.1" y2="275.3" stroke="#8a8a8a" stroke-width="0.6" />
<line x1="399" y1="275.3" x2="396.6" y2="275.3" stroke="#8a8a8a" stroke-width="0.6" />
<line x1="234.7" y1="267.39" x2="237.1" y2="267.39" stroke="#8a8a8a" stroke-width="0.6" />
<line x1="399" y1="267.39" x2="396.6" y2="267.39" stroke="#8a8a8a" stroke-width="0.6" />
<line x1="234.7" y1="259.48" x2="238.7" y2="259.48" stroke="#2b2b2b" stroke-width="1.0" />
<line x1="399" y1="259.48" x2="395" y2="259.48" stroke="#2b2b2b" stroke-width="1.0" />
<line x1="234.7" y1="251.56" x2="237.1" y2="251.56" stroke="#8a8a8a" stroke-width="0.6" />
<line x1="399" y1="251.56" x2="396.6" y2="251.56" stroke="#8a8a8a" stroke-width="0.6" />
<rect x="232.7" y="336.08" width="4" height="4.4" fill="#d80000"/>
<rect x="246.39" y="335.61" width="4" height="4.4" fill="#d80000"/>
<rect x="260.08" y="334.34" width="4" height="4.4" fill="#d80000"/>
<rect x="273.77" y="330.86" width="4" height="4.4" fill="#d80000"/>
<rect x="287.47" y="322.16" width="4" height="4.4" fill="#d80000"/>
<rect x="301.16" y="299.21" width="4" height="4.4" fill="#d80000"/>
<rect x="314.85" y="256.09" width="4" height="4.4" fill="#d80000"/>
<rect x="328.54" y="299.21" width="4" height="4.4" fill="#d80000"/>
<rect x="342.23" y="322.16" width="4" height="4.4" fill="#d80000"/>
<rect x="355.93" y="330.86" width="4" height="4.4" fill="#d80000"/>
<rect x="369.62" y="334.34" width="4" height="4.4" fill="#d80000"/>
<rect x="383.31" y="335.61" width="4" height="4.4" fill="#d80000"/>
<rect x="397" y="336.08" width="4" height="4.4" fill="#d80000"/>
<path d="M234.7 337.77 L248.39 336.83 L262.08 334.82 L275.77 330.51 L289.47 321.29 L303.16 301.6 L316.85 259.48 L330.54 301.6 L344.23 321.29 L357.93 330.51 L371.62 334.82 L385.31 336.83 L399 337.77" fill="none" stroke="#2a2aff" stroke-width="1.5" stroke-dasharray="4.2 3.1"/>
<path d="M234.7 338.2 L248.39 337.51 L262.08 335.64 L275.77 330.58 L289.47 317.15 L303.16 286.3 L316.85 257.89 L330.54 286.3 L344.23 317.15 L357.93 330.58 L371.62 335.64 L385.31 337.51 L399 338.2" fill="none" stroke="#000" stroke-width="1.5" stroke-linejoin="round"/>
<line x1="234.2" y1="243.65" x2="399.5" y2="243.65" stroke="#333" stroke-width="0.95" />
<line x1="234.2" y1="338.6" x2="399.5" y2="338.6" stroke="#444" stroke-width="1.05" />
<line x1="234.7" y1="243.25" x2="234.7" y2="339.1" stroke="#444" stroke-width="1.1" />
<line x1="399" y1="243.25" x2="399" y2="339.1" stroke="#666" stroke-width="1.1" />
<text transform="translate(232.2 264.48) scale(0.86 1)" font-size="14.6" text-anchor="end" fill="#000" >1</text>
<text transform="translate(232.2 304.04) scale(0.86 1)" font-size="14.6" text-anchor="end" fill="#000" >0.5</text>
<text transform="translate(232.2 343.6) scale(0.86 1)" font-size="14.6" text-anchor="end" fill="#000" >0</text>
<text x="248.39" y="348.8" font-size="12" text-anchor="middle" fill="#000" >-5</text>
<text x="316.85" y="348.8" font-size="12" text-anchor="middle" fill="#000" >0</text>
<text x="385.31" y="348.8" font-size="12" text-anchor="middle" fill="#000" >5</text>
<text transform="translate(333.9 349.5) scale(1.05 1)" font-size="19.5" text-anchor="start" font-style="italic" fill="#000" stroke="#000" stroke-width="0.12">n</text>
<text transform="translate(212.4 280.3) scale(1.05 1)" font-size="18" text-anchor="start" font-style="italic" fill="#000" stroke="#000" stroke-width="0.2">u</text>
<text transform="translate(221 286.7) scale(1.05 1)" font-size="10.5" text-anchor="start" font-style="italic" fill="#000" stroke="#000" stroke-width="0.2">n</text>
<text x="372" y="261.8" font-size="19" text-anchor="start" fill="#000" >(c)</text>
<text y="289.9" font-size="12.2"><tspan x="349.1" font-size="14.3">&#969;</tspan><tspan x="359.8" font-size="14">=</tspan><tspan x="370" font-size="13.5">&#8722;</tspan><tspan x="377">1</tspan></text>
<rect x="260.0" y="251.1" width="3.9" height="4.4" fill="#d80000"/>
<line x1="242.4" y1="262" x2="281.4" y2="262" stroke="#606060" stroke-width="1.8" />
<line x1="242.4" y1="270.6" x2="281.4" y2="270.6" stroke="#2a2aff" stroke-width="1.4" stroke-dasharray="4.2 3.1"/>
<text x="288" y="255.6" font-size="9" text-anchor="start" fill="#222" >num</text>
<text x="288" y="264.2" font-size="9" text-anchor="start" fill="#222" >sech</text>
<text x="288" y="272.7" font-size="9" text-anchor="start" fill="#222" >exp</text>
</svg>
</body></html>
